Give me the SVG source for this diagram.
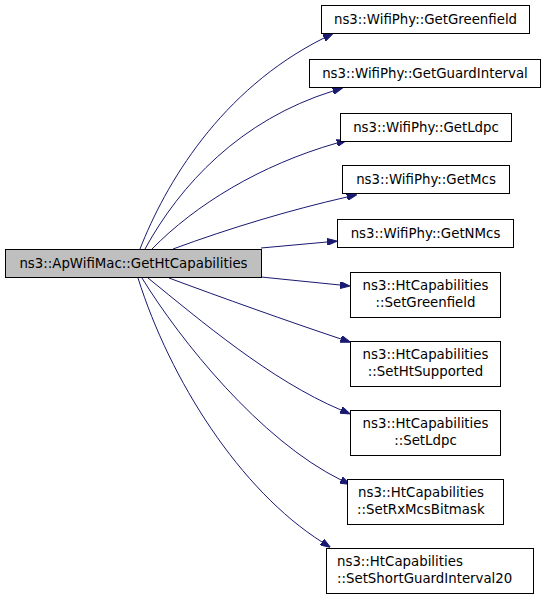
<svg xmlns="http://www.w3.org/2000/svg" width="547" height="600" viewBox="0 0 547 600">
<style>
.n rect{fill:#ffffff;stroke:#000000;stroke-width:1}
.m rect{fill:#bfbfbf;stroke:#000000;stroke-width:1}
text{font-family:"DejaVu Sans",sans-serif;font-size:13.33px;fill:#000000}
.c{text-anchor:middle}
.e path{fill:none;stroke:#191970;stroke-width:1;marker-end:url(#ah)}
</style>
<defs>
<marker id="ah" markerUnits="userSpaceOnUse" viewBox="0 0 10 7" refX="0" refY="3.5" markerWidth="10" markerHeight="7" orient="auto">
<path d="M0,0 L10,3.5 L0,7 z" fill="#191970" stroke="#191970"/>
</marker>
</defs>
<rect width="547" height="600" fill="#ffffff"/>
<g id="edges" class="e">
<path d="M140,249 C165,185 220,90 324,38"/>
<path d="M145,249 C180,185 240,120 333,91"/>
<path d="M152,249 C195,205 260,165 337,143"/>
<path d="M173,249 C230,228 290,210 347,197"/>
<path d="M261,248 L327,242"/>
<path d="M261,277 L340,285"/>
<path d="M169,278 C220,297 290,322 341,339"/>
<path d="M148,278 C200,320 270,380 341,410"/>
<path d="M142,278 C180,340 260,440 341,480"/>
<path d="M138,278 C170,380 240,490 322,542"/>
</g>
<g id="main" class="m"><rect x="5.5" y="249.5" width="256" height="28"/><text class="c" x="133.5" y="268">ns3::ApWifiMac::GetHtCapabilities</text></g>
<g id="n1" class="n"><rect x="321.5" y="5.5" width="208" height="28"/><text class="c" x="425.5" y="24">ns3::WifiPhy::GetGreenfield</text></g>
<g id="n2" class="n"><rect x="309.5" y="59.5" width="231" height="28"/><text class="c" x="425" y="78">ns3::WifiPhy::GetGuardInterval</text></g>
<g id="n3" class="n"><rect x="340.5" y="113.5" width="171" height="28"/><text class="c" x="426" y="132">ns3::WifiPhy::GetLdpc</text></g>
<g id="n4" class="n"><rect x="342.5" y="165.5" width="167" height="28"/><text class="c" x="426" y="184">ns3::WifiPhy::GetMcs</text></g>
<g id="n5" class="n"><rect x="337.5" y="219.5" width="176" height="28"/><text class="c" x="425.5" y="238">ns3::WifiPhy::GetNMcs</text></g>
<g id="n6" class="n"><rect x="350.5" y="272.5" width="150" height="45"/><text class="c" x="425.5" y="290">ns3::HtCapabilities</text><text class="c" x="425.5" y="307">::SetGreenfield</text></g>
<g id="n7" class="n"><rect x="350.5" y="341.5" width="150" height="45"/><text class="c" x="425.5" y="359">ns3::HtCapabilities</text><text class="c" x="425.5" y="376">::SetHtSupported</text></g>
<g id="n8" class="n"><rect x="350.5" y="410.5" width="150" height="45"/><text class="c" x="425.5" y="428">ns3::HtCapabilities</text><text class="c" x="425.5" y="445">::SetLdpc</text></g>
<g id="n9" class="n"><rect x="347.5" y="479.5" width="156" height="45"/><text x="358" y="497">ns3::HtCapabilities</text><text x="357" y="514">::SetRxMcsBitmask</text></g>
<g id="n10" class="n"><rect x="326.5" y="548.5" width="207" height="45"/><text x="337" y="566">ns3::HtCapabilities</text><text x="337" y="583">::SetShortGuardInterval20</text></g>
</svg>
